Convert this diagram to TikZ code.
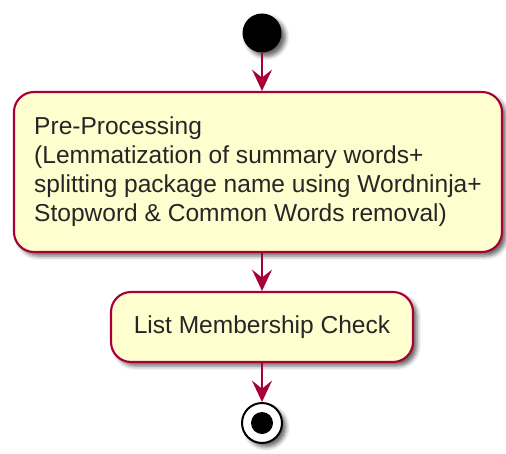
\documentclass[tikz,border=0pt]{standalone}
\usepackage{fontspec}
\setmainfont{Liberation Sans}
\usetikzlibrary{arrows.meta,shadows.blur}
\definecolor{umlred}{HTML}{A80036}
\definecolor{umlfill}{HTML}{FEFECE}
\begin{document}
\begin{tikzpicture}[x=0.75pt,y=-0.75pt,
  shadowed/.style={blur shadow={shadow xshift=3pt,shadow yshift=-3pt,shadow blur radius=3pt,shadow opacity=60}},
  actbox/.style={draw=umlred,fill=umlfill,line width=1.6pt,rounded corners=15pt,inner sep=0pt,
    font=\fontsize{18.4}{21.75}\selectfont,text=black!85,shadowed},
  flow/.style={draw=umlred,line width=1.4pt,-{Stealth[length=16pt,width=15pt,inset=6pt]}}]
\useasboundingbox (0,0) rectangle (506,453);
\node[circle,fill=black,minimum size=29.25pt,inner sep=0pt,shadowed] (start) at (262,33) {};
\node[actbox,minimum width=366pt,minimum height=120pt,align=left] (pre) at (258,172)
  {Pre-Processing\\(Lemmatization of summary words+\\splitting package name using Wordninja+\\Stopword \& Common Words removal)};
\node[actbox,minimum width=226.5pt,minimum height=52.5pt] (lmc) at (262,327) {List Membership Check};
\node[circle,draw=black,line width=1.5pt,fill=white,minimum size=30pt,inner sep=0pt,shadowed] (stop) at (262,423) {};
\node[circle,fill=black,minimum size=16.5pt,inner sep=0pt] (stopdot) at (stop) {};
\draw[flow] (start) -- (start |- pre.north);
\draw[flow] (pre.south -| lmc) -- (lmc);
\draw[flow] (lmc) -- (stop);
\end{tikzpicture}
\end{document}
